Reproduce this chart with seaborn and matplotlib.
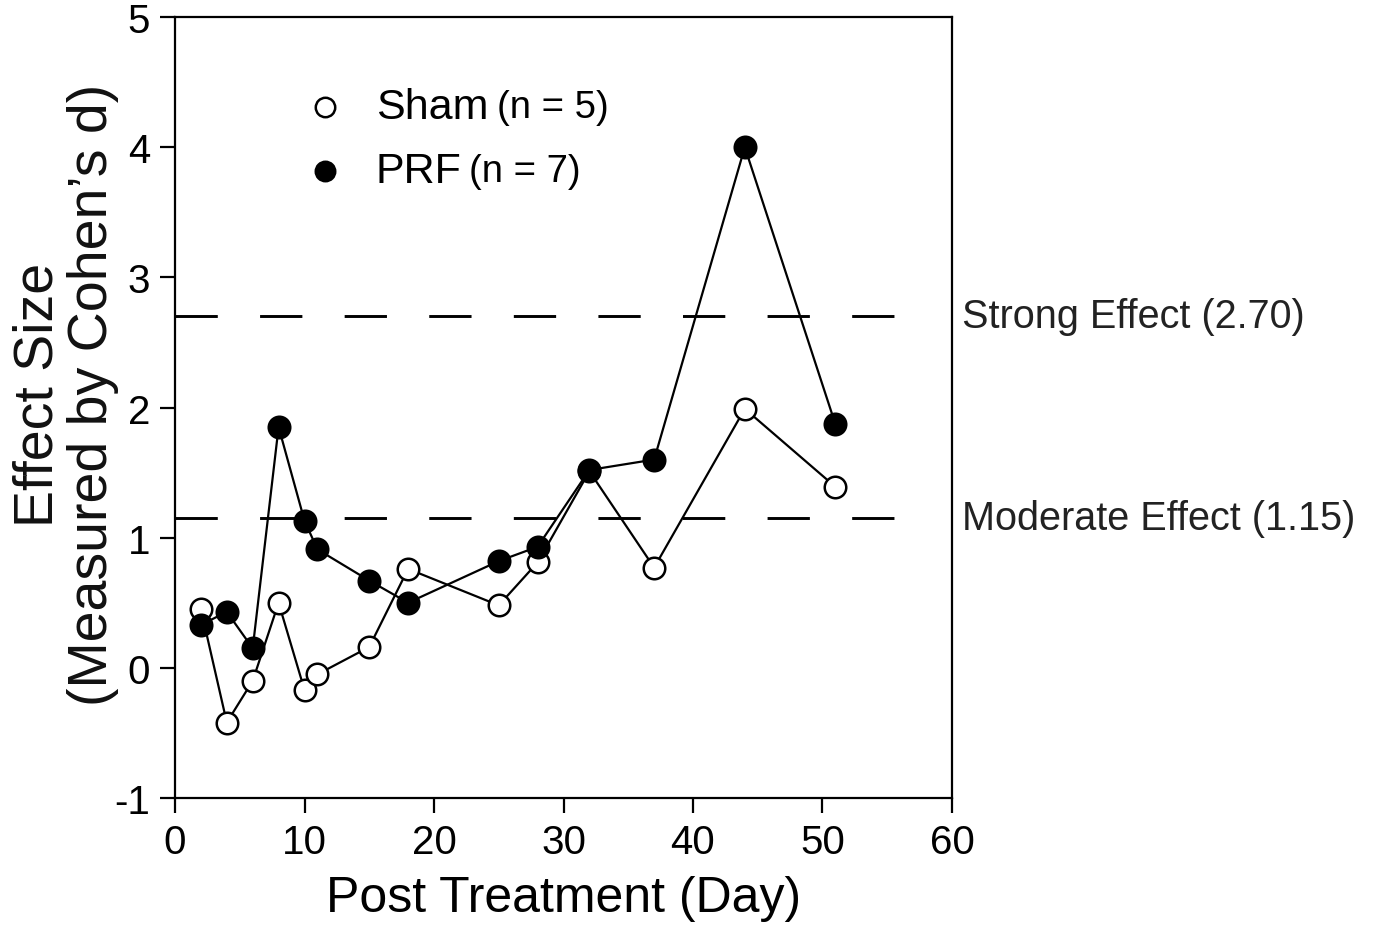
import numpy as np
import pandas as pd
import seaborn as sns
import matplotlib.pyplot as plt

sns.set_theme(style="ticks")
plt.rcParams['font.family'] = ['Liberation Sans', 'DejaVu Sans']
plt.rcParams['axes.unicode_minus'] = False

# data
days = [2, 4, 6, 8, 10, 11, 15, 18, 25, 28, 32, 37, 44, 51]
sham = [0.45, -0.42, -0.10, 0.50, -0.17, -0.05, 0.16, 0.76, 0.48, 0.81, 1.51, 0.77, 1.99, 1.39]
prf = [0.33, 0.43, 0.15, 1.85, 1.13, 0.91, 0.67, 0.50, 0.82, 0.93, 1.52, 1.60, 4.00, 1.87]
thresholds = [2.70, 1.15]
threshold_labels = ['Strong Effect (2.70)', 'Moderate Effect (1.15)']

df = pd.DataFrame({'day': days, 'Sham': sham, 'PRF': prf})

fig = plt.figure(figsize=(13.76, 9.29), dpi=100)
ax = fig.add_axes([175 / 1376, 1 - 799 / 929, 777 / 1376, 781 / 929])

# dashed reference lines
for thr in thresholds:
    ax.plot([0, 56.8], [thr, thr], color='black', lw=2.1,
            dashes=(14.5, 14.5), zorder=1)

sns.lineplot(data=df, x='day', y='Sham', ax=ax, color='black', lw=1.6,
             marker='o', markersize=15.5, markerfacecolor='white',
             markeredgecolor='black', markeredgewidth=1.8, zorder=3)
sns.lineplot(data=df, x='day', y='PRF', ax=ax, color='black', lw=1.6,
             marker='o', markersize=15.5, markerfacecolor='black',
             markeredgecolor='black', markeredgewidth=1.8, zorder=4)

ax.set_xlim(0, 60)
ax.set_ylim(-1, 5)
ax.set_xticks(range(0, 61, 10))
ax.set_yticks(range(-1, 6))
ax.set_xlabel('Post Treatment (Day)', fontsize=36, labelpad=10, color='black')
ax.set_ylabel('')
ax.tick_params(axis='both', direction='out', length=11, width=1.6,
               labelsize=29, colors='black', pad=7)
for sp in ax.spines.values():
    sp.set_linewidth(1.6)
    sp.set_color('black')
    sp.set_visible(True)

fig.text(66 / 1376, 0.575, 'Effect Size\n(Measured by Cohen\u2019s d)',
         rotation=90, ha='center', va='center', multialignment='center',
         fontsize=40, linespacing=1.05, color='#111111')

# threshold labels outside the right spine
for thr, lab in zip(thresholds, threshold_labels):
    ax.text(60.8, thr, lab, fontsize=28.5, color='#222222', ha='left',
            va='center', clip_on=False)

# legend
ax.plot([11.6], [4.31], 'o', ms=14, mfc='white', mec='black', mew=1.8)
ax.plot([11.6], [3.82], 'o', ms=14, mfc='black', mec='black', mew=1.8)
ax.text(15.5, 4.31, 'Sham', fontsize=31, va='center', ha='left', color='black')
ax.text(24.9, 4.31, '(n = 5)', fontsize=27.5, va='center', ha='left', color='black')
ax.text(15.5, 3.82, 'PRF', fontsize=31, va='center', ha='left', color='black')
ax.text(22.7, 3.82, '(n = 7)', fontsize=27.5, va='center', ha='left', color='black')

fig.savefig('out.png', dpi=100, facecolor='white')
